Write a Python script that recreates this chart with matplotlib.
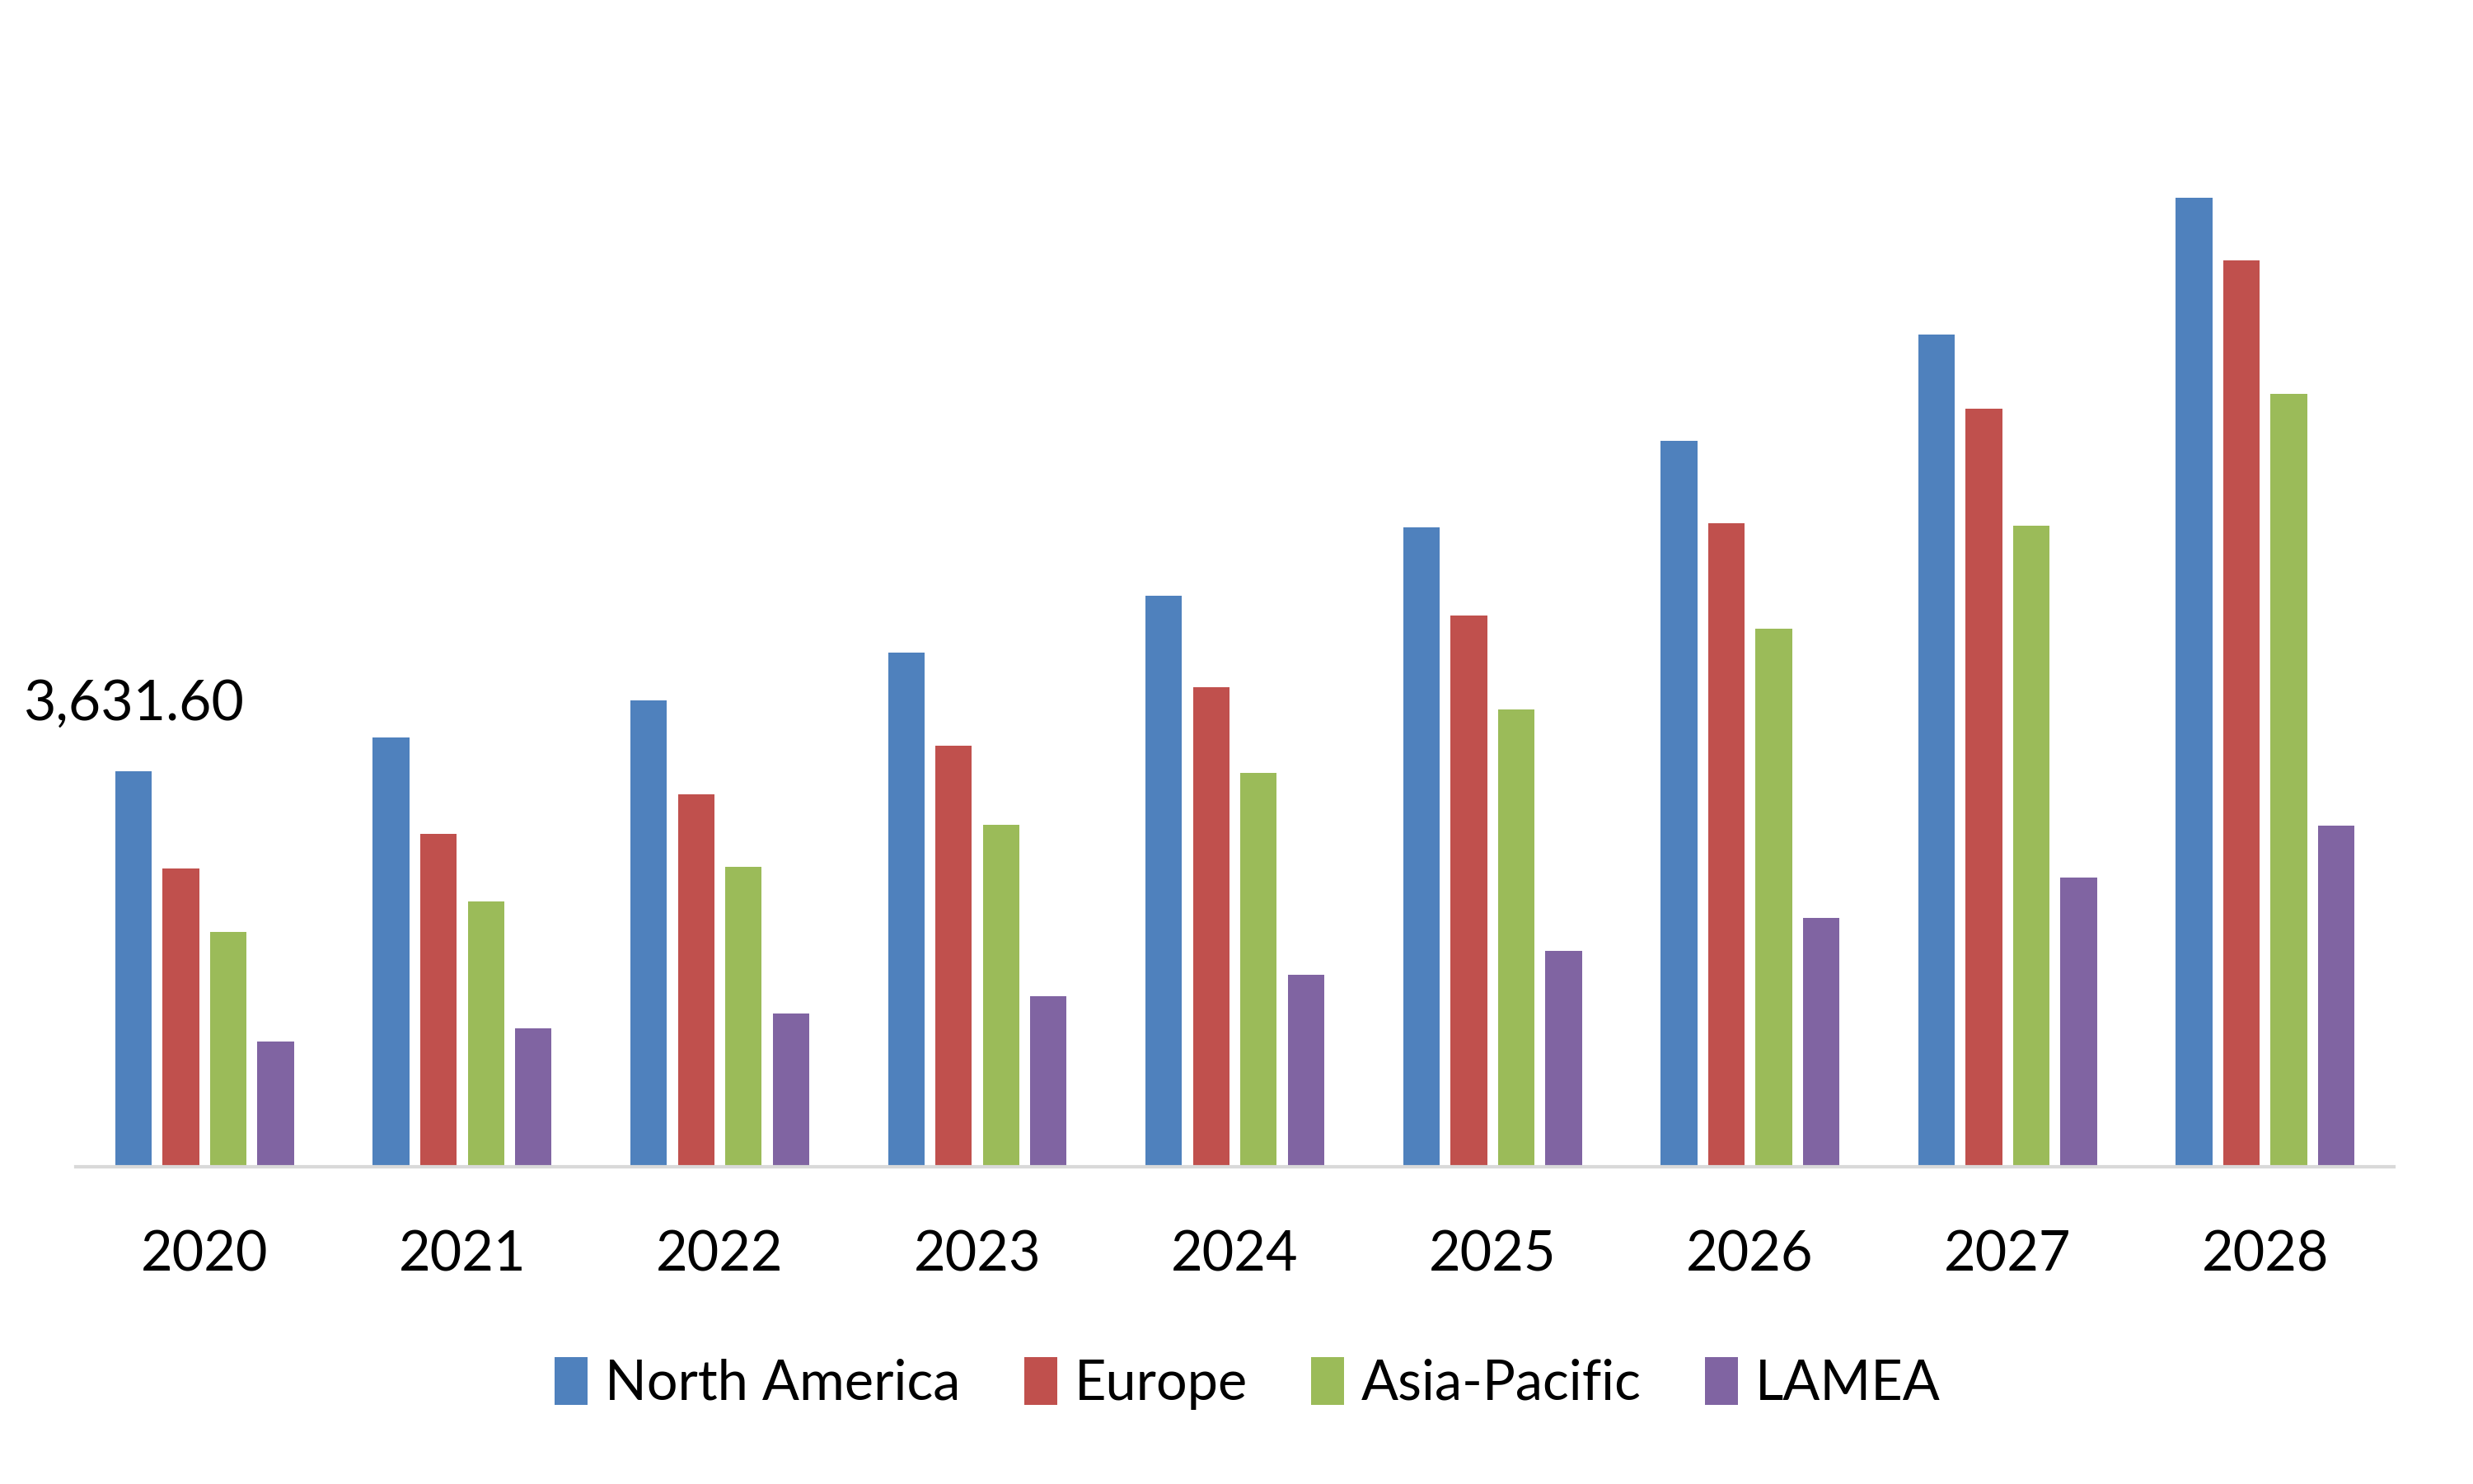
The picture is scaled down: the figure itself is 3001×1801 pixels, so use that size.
import matplotlib
matplotlib.use("Agg")
import matplotlib.pyplot as plt
import numpy as np

years = ["2020", "2021", "2022", "2023", "2024", "2025", "2026", "2027", "2028"]
north_america = [3631.60, 3936, 4283, 4717, 5238, 5870, 6660, 7640, 8895]
europe = [2741, 3053, 3415, 3863, 4399, 5062, 5903, 6960, 8315]
asia_pacific = [2158, 2431, 2749, 3140, 3617, 4194, 4937, 5880, 7092]
lamea = [1147, 1273, 1404, 1563, 1765, 1978, 2285, 2656, 3134]

series_names = ["North America", "Europe", "Asia-Pacific", "LAMEA"]
series_values = [north_america, europe, asia_pacific, lamea]
colors = ["#4F81BD", "#C0504D", "#9BBB59", "#8064A2"]

plt.rcParams['font.family'] = ['Lato', 'DejaVu Sans']

fig = plt.figure(figsize=(30.01, 18.01), dpi=100)
ax = fig.add_axes([0.0307, 0.2138, 0.9373, 0.7342])

x = np.arange(len(years))
step = 0.184
width = 0.142
for i, (name, vals, c) in enumerate(zip(series_names, series_values, colors)):
    ax.bar(x + (i - 1.5) * step, vals, width=width, color=c, label=name, zorder=2)

ax.annotate("3,631.60", xy=(x[0] - 1.5 * step, north_america[0]), xytext=(0, 58),
            textcoords="offset points", ha="center", va="center", fontsize=49, color="black")

ax.set_xlim(-0.5, len(years) - 0.5)
ax.set_ylim(0, 10000)
ax.set_xticks(x)
ax.set_xticklabels(years, fontsize=48)
ax.tick_params(axis="x", length=0, pad=55)
ax.set_yticks([])
for s in ["left", "right", "top"]:
    ax.spines[s].set_visible(False)
ax.spines["bottom"].set_color("#D9D9D9")
ax.spines["bottom"].set_linewidth(3)
ax.spines["bottom"].set_zorder(3)

fig.legend(loc="center", bbox_to_anchor=(0.5045, 0.0677), ncol=4, frameon=False,
           fontsize=48, handlelength=0.6, handleheight=0.95, handletextpad=0.32,
           columnspacing=1.15)

fig.savefig("out.png", dpi=100, facecolor="white")
